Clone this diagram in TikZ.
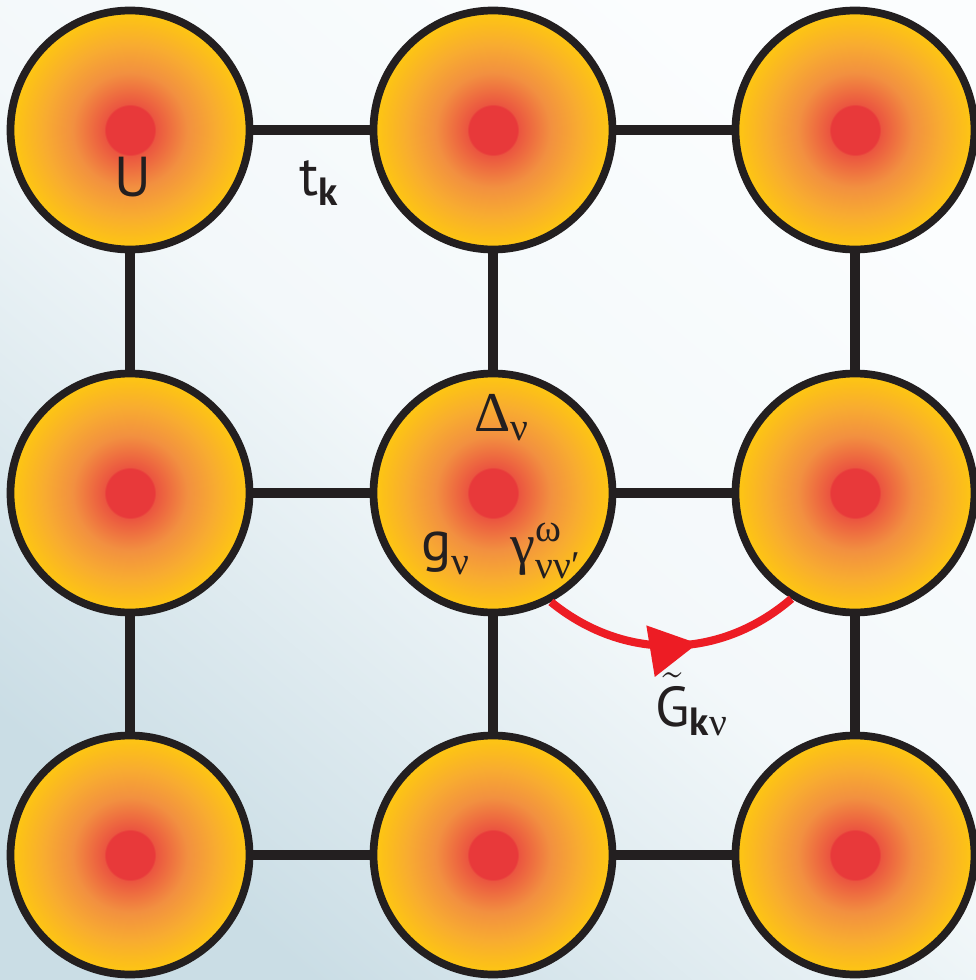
\documentclass[tikz,border=0pt]{standalone}
\usepackage{amsmath}
\usepackage{fontspec}
\setmainfont{PT Sans}
\newfontfamily\greekfont{Liberation Serif}
\usetikzlibrary{
    arrows.meta,
    decorations.markings
}
\definecolor{dotred}{HTML}{E8393A}
\definecolor{glowred}{HTML}{EB5540}
\definecolor{glowor}{HTML}{F29040}
\definecolor{siteor}{HTML}{F8AC30}
\definecolor{sitegold}{HTML}{FDC414}
\definecolor{siterim}{HTML}{FFF33B}
\definecolor{bondblack}{HTML}{231F20}
\definecolor{hopred}{HTML}{ED1C24}
\definecolor{bgtop}{HTML}{FBFDFE}
\definecolor{bgmid}{HTML}{F3F8FA}
\definecolor{bgbot}{HTML}{CADDE5}
\pgfdeclareradialshading{sitecloud}{\pgfpoint{0bp}{0bp}}{%
    color(0bp)=(dotred); color(5.1bp)=(dotred);
    color(5.4bp)=(glowred); color(12bp)=(glowor);
    color(18bp)=(siteor); color(24bp)=(sitegold);
    color(32.5bp)=(sitegold); color(34.8bp)=(siterim);
    color(100bp)=(siterim)}
\tikzset{
    >=Stealth,
    site/.style={
        circle,
        draw=bondblack,
        line width=2.2pt,
        shade,
        shading=sitecloud,
        minimum size=2.39cm,
        inner sep=0pt
    },
    bond/.style={
        draw=bondblack,
        line width=3pt
    },
    hop/.style={
        draw=hopred,
        line width=2.3pt,
        postaction={decorate},
        decoration={markings,
            mark=at position 0.6 with {\arrow[hopred]{Triangle[length=4.8mm,width=5mm]}}}
    },
    lbl/.style={
        text=bondblack,
        inner sep=0pt,
        font=\fontsize{16}{18}\selectfont
    }
}
\begin{document}
\begin{tikzpicture}

    % Fondo
    \useasboundingbox (0,0) rectangle (9.76,9.80);
    \shade[top color=bgtop, bottom color=bgbot, middle color=bgmid, shading angle=-40]
        (0,0) rectangle (9.76,9.80);

    % Sitios
    \node[site] (s11) at (1.30,8.50) {};
    \node[site] (s12) at (4.93,8.50) {};
    \node[site] (s13) at (8.55,8.50) {};
    \node[site] (s21) at (1.30,4.87) {};
    \node[site] (s22) at (4.93,4.87) {};
    \node[site] (s23) at (8.55,4.87) {};
    \node[site] (s31) at (1.30,1.25) {};
    \node[site] (s32) at (4.93,1.25) {};
    \node[site] (s33) at (8.55,1.25) {};

    % Enlaces
    \path[bond]
        (s11) edge (s12)
        (s12) edge (s13)
        (s21) edge (s22)
        (s22) edge (s23)
        (s31) edge (s32)
        (s32) edge (s33)
        (s11) edge (s21)
        (s21) edge (s31)
        (s12) edge (s22)
        (s22) edge (s32)
        (s13) edge (s23)
        (s23) edge (s33);

    % Salto
    \draw[hop] (s22.-62) to[bend right=40] (s23.-121);

    % Etiquetas
    \node[lbl] (lU) at (1.33,8.03) {U};
    \node[lbl] (lt) at (3.20,7.97) {$\text{t}_{\textbf{k}}$};
    \node[lbl] (lD) at (5.02,5.62) {\greekfont $\text{Δ}_{\text{ν}}$};
    \node[lbl] (lg) at (4.46,4.27) {$\text{g}_{\text{\greekfont ν}}$};
    \node[lbl] (lgam) at (5.46,4.29) {\greekfont $\text{γ}^{\text{ω}}_{\text{νν′}}$};
    \node[lbl] (lG) at (6.92,2.76)
        {$\tilde{\text{G}}_{\textbf{k}\text{\greekfont ν}}$};

\end{tikzpicture}
\end{document}
